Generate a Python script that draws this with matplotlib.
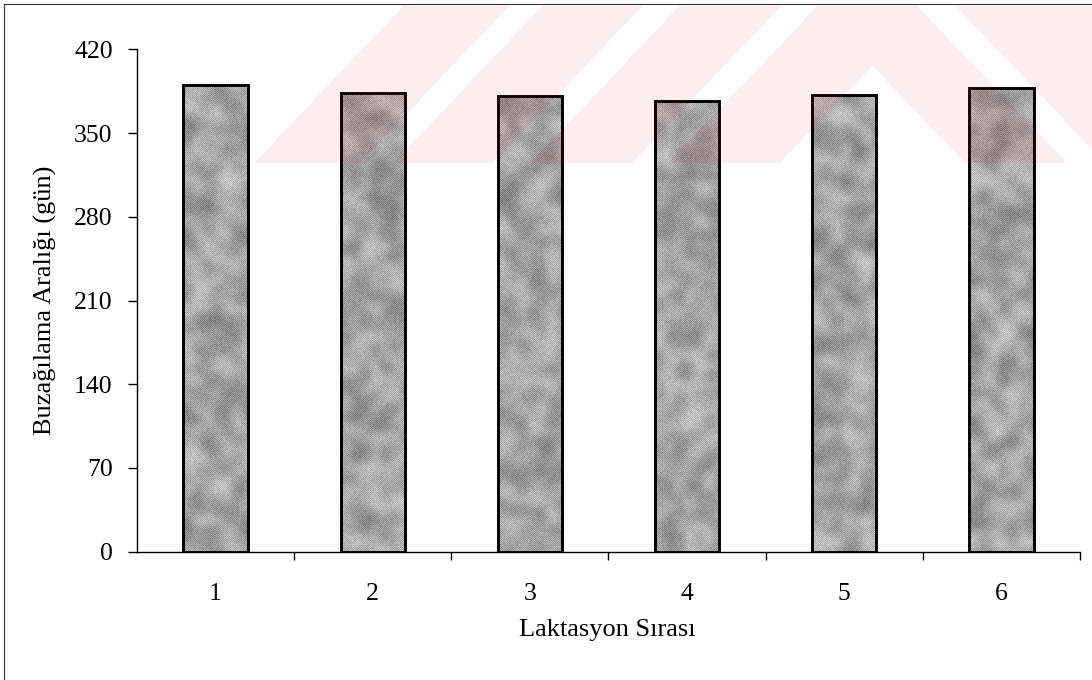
import numpy as np
import matplotlib
matplotlib.use('Agg')
import matplotlib.pyplot as plt
from matplotlib.lines import Line2D

# laktasyon sirasina gore buzagilama araligi (gun)
laktasyon = ['1', '2', '3', '4', '5', '6']
buzagilama_araligi = [390, 384, 381, 377, 382, 388]
y_ticks = [0, 70, 140, 210, 280, 350, 420]

plt.rcParams['font.family'] = ['Liberation Serif', 'DejaVu Serif']

W, H = 1092, 680
fig = plt.figure(figsize=(W / 100, H / 100), dpi=100)
ax = fig.add_axes([137 / W, 1 - 551.5 / H, (1080 - 137) / W, (551.5 - 49.5) / H])

x = np.arange(1, len(laktasyon) + 1)
bar_w = 0.41
bars = ax.bar(x, buzagilama_araligi, width=bar_w, facecolor='none',
              edgecolor='black', linewidth=2.1, zorder=3)

# granit dolgu dokusu
rng = np.random.default_rng(7)


def smooth(a, n):
    for _ in range(n):
        a = (a + np.roll(a, 1, 0) + np.roll(a, -1, 0)
             + np.roll(a, 1, 1) + np.roll(a, -1, 1)) / 5
    return a


def granite(h, w):
    blk = 10
    coarse = rng.random((h // blk + 2, w // blk + 2))
    big = np.kron(coarse, np.ones((blk, blk)))[:h, :w]
    big = smooth(big, 70)
    big = (big - big.mean()) / (np.abs(big - big.mean()).max() + 1e-9)
    checker = (np.indices((h, w)).sum(0) % 2) - 0.5
    fine = rng.random((h, w)) - 0.5
    tex = 0.64 + 0.13 * big + 0.12 * checker + 0.10 * fine
    return np.clip(tex, 0, 1)


px_per_unit = (551.5 - 49.5) / 420
for xi, val, rect in zip(x, buzagilama_araligi, bars):
    tex = granite(int(val * px_per_unit), 66)
    im = ax.imshow(tex, cmap='gray', vmin=0, vmax=1, interpolation='nearest',
                   extent=(xi - bar_w / 2, xi + bar_w / 2, 0, val),
                   aspect='auto', zorder=2)
    im.set_clip_path(rect)

ax.set_xlim(0.5, 6.5)
ax.set_ylim(0, 420)
ax.set_yticks(y_ticks)
ax.set_xticks(x)
ax.set_xticklabels(laktasyon)
ax.set_xticks(np.arange(1.5, 7, 1), minor=True)

for s in ['top', 'right']:
    ax.spines[s].set_visible(False)
for s in ['left', 'bottom']:
    ax.spines[s].set_linewidth(1)

ax.tick_params(axis='x', which='major', length=0, pad=23, labelsize=18.5)
ax.tick_params(axis='x', which='minor', length=6, width=1, direction='out')
ax.tick_params(axis='y', length=6.5, width=1, direction='out', pad=11, labelsize=18.5)

fig.text(45 / W, 1 - 300 / H, 'Buzağılama Aralığı (gün)', rotation=90,
         fontsize=19, ha='center', va='center')
fig.text(607.5 / W, 1 - 630 / H, 'Laktasyon Sırası', fontsize=19,
         ha='center', va='center')

# grafik alani cercevesi
fig.add_artist(Line2D([5 / W, 1], [1 - 4 / H, 1 - 4 / H], color='#333333',
                      lw=0.8, transform=fig.transFigure))
fig.add_artist(Line2D([4 / W, 4 / W], [0, 1 - 4 / H], color='#333333',
                      lw=0.8, transform=fig.transFigure))

# filigran
yy, xx = np.mgrid[0:H, 0:W].astype(float)
c = xx + 0.95 * yy
d = xx - 0.95 * yy
slash_pink = (((c >= 408) & (c < 514)) | ((c >= 547) & (c < 647))
              | ((c >= 684) & (c < 786)) | ((c >= 822) & (c < 934)))
back_pink = (d < 912) | (d >= 950)
mask = (yy <= 162) & (yy >= 6) & np.where(d < 810, slash_pink, back_pink)
wm = np.zeros((H, W, 4))
wm[..., 0] = 220 / 255
wm[..., 1] = 30 / 255
wm[..., 2] = 60 / 255
wm[..., 3] = mask * 0.075
fig.figimage(wm, xo=0, yo=0, origin='upper', zorder=20)

fig.savefig('out.png', dpi=100)
